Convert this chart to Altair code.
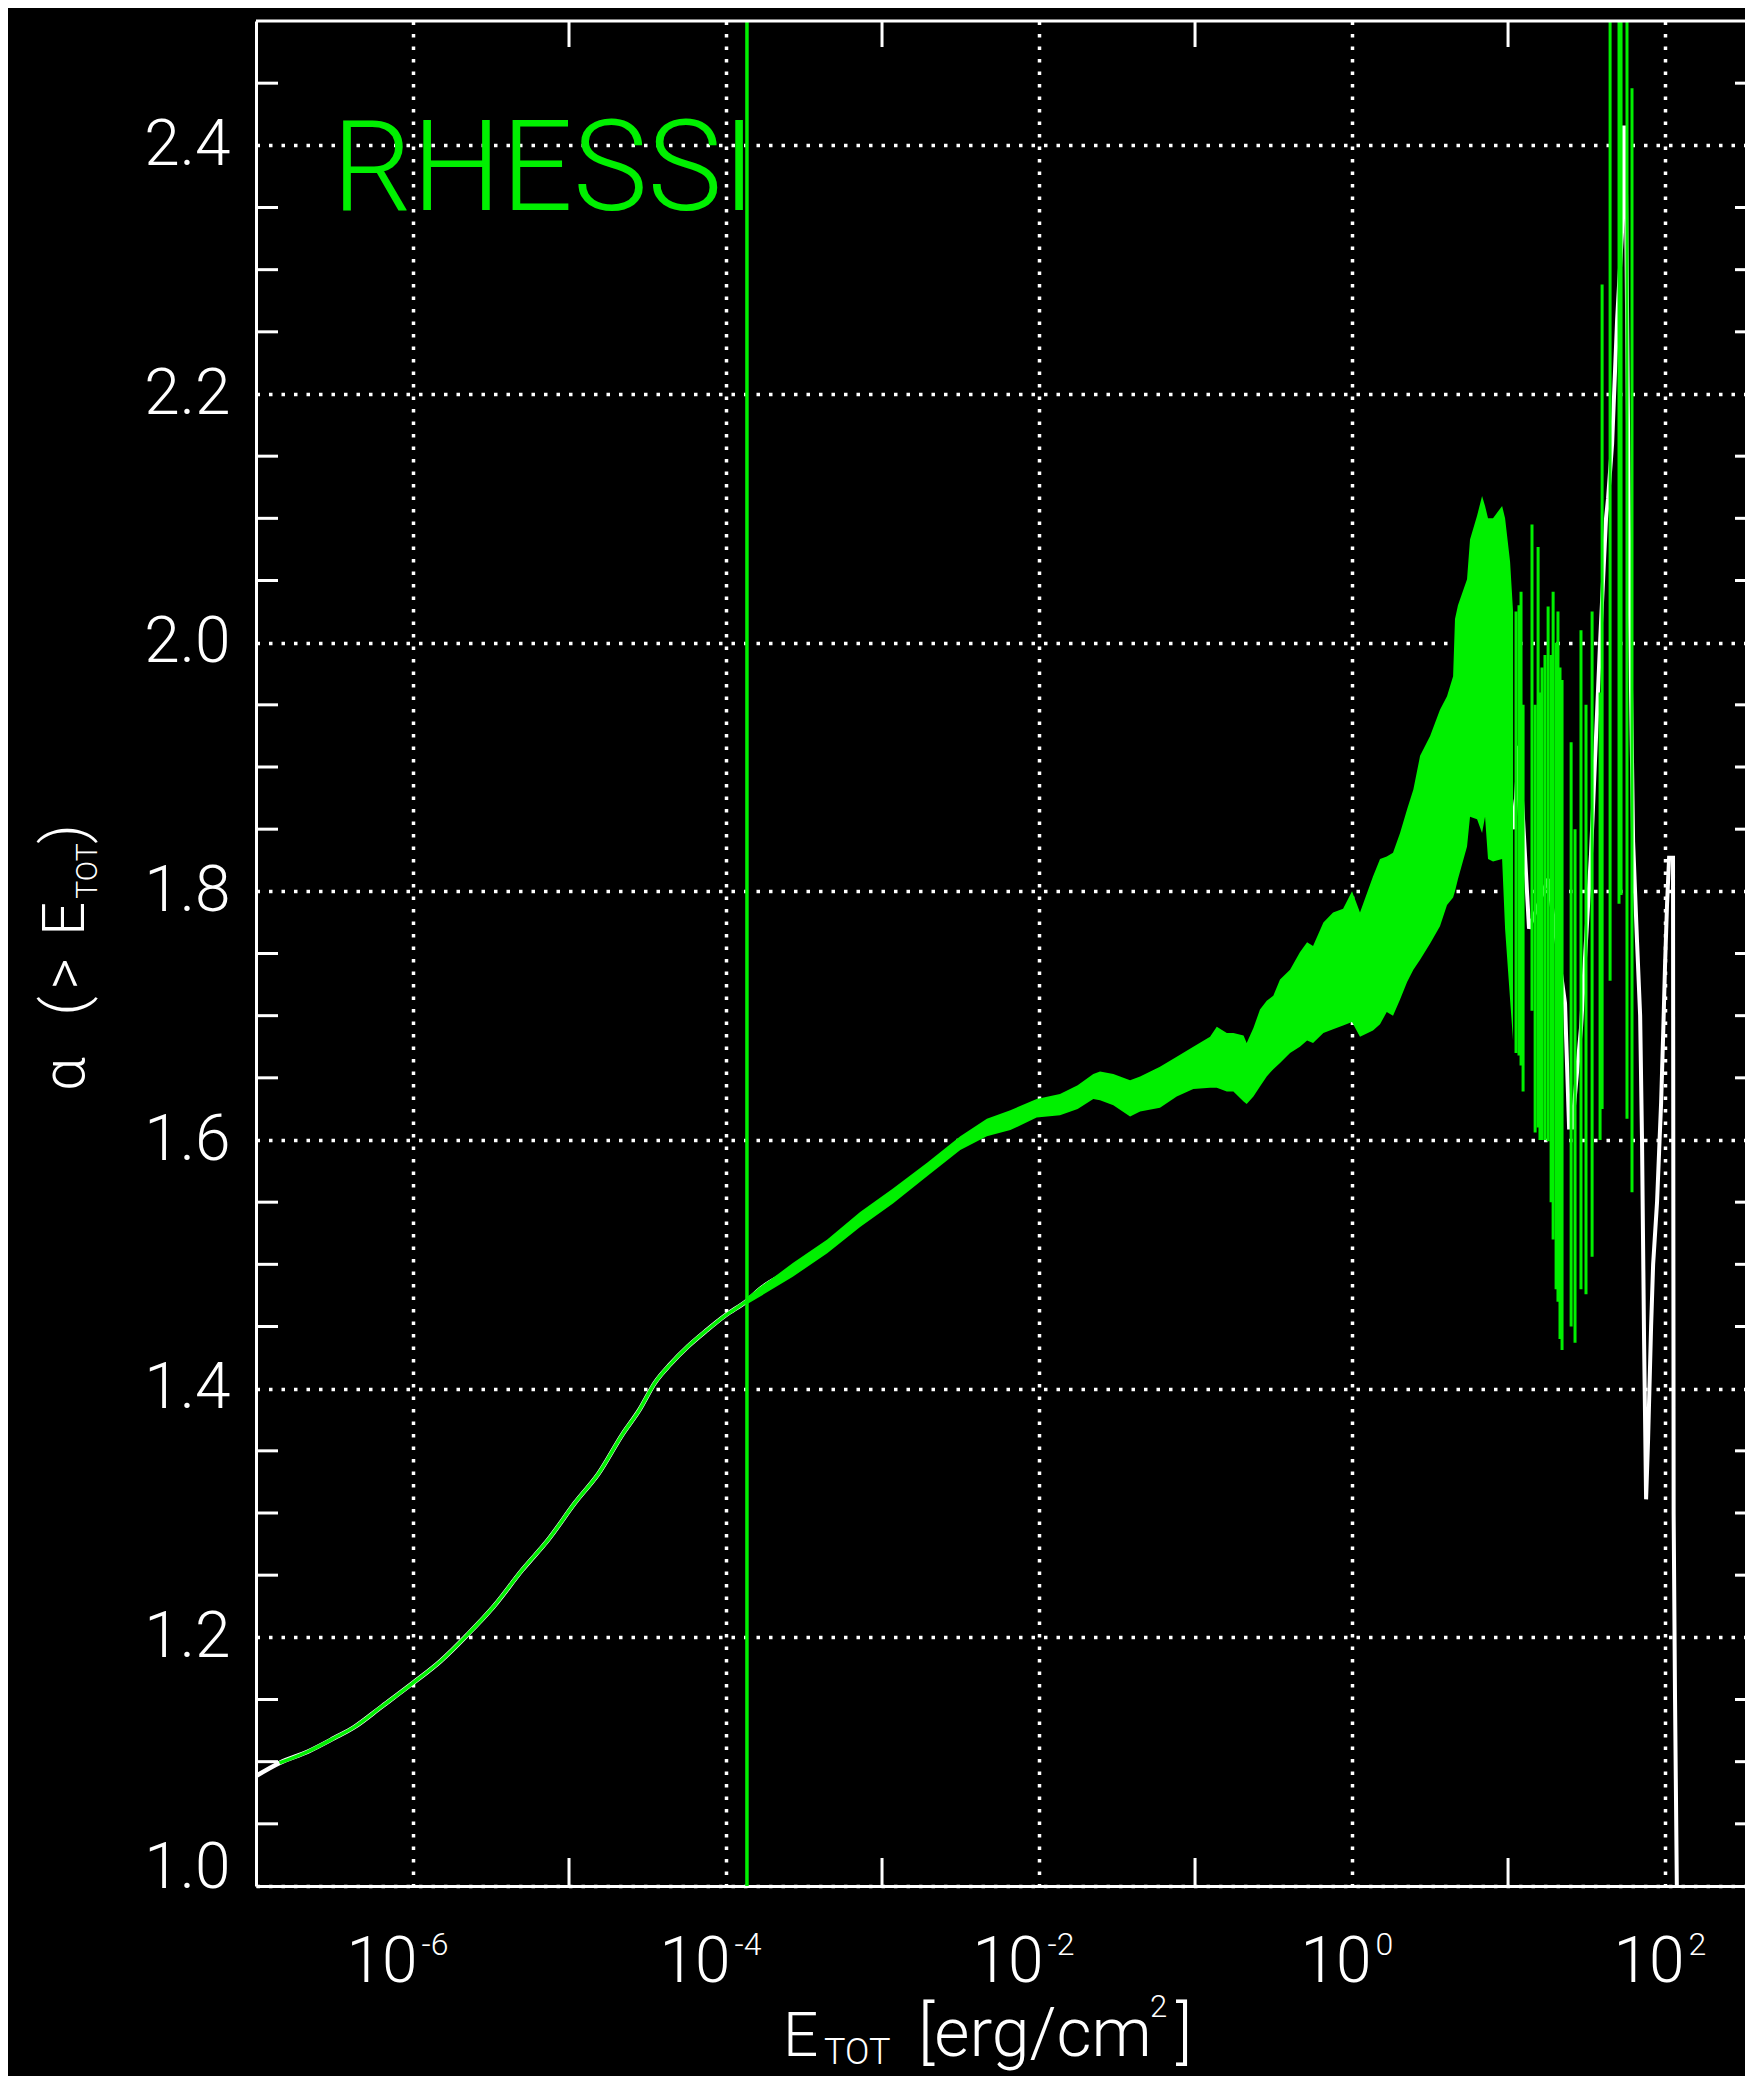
import altair as alt
import numpy as np
import pandas as pd

# ---------------- data ----------------
# x given as log10(E_TOT [erg/cm^2]), y = alpha(>E_TOT)
curve_logE = [-7.0, -6.85, -6.67, -6.5, -6.37, -6.2, -6.0, -5.82, -5.65, -5.48,
              -5.30, -5.13, -4.96, -4.81, -4.66, -4.55, -4.45, -4.35, -4.24, -4.12,
              -4.00, -3.86, -3.78, -3.57, -3.35, -3.14, -2.93, -2.71, -2.50, -2.33,
              -2.18, -2.01, -1.82, -1.22, -0.67, -0.18, 0.26, 0.52, 0.76, 0.90, 1.04]
curve_alpha = [1.0885, 1.099, 1.108, 1.119, 1.128, 1.144, 1.163, 1.181, 1.202, 1.225,
               1.254, 1.279, 1.3085, 1.332, 1.363, 1.383, 1.405, 1.420, 1.434, 1.447,
               1.459, 1.471, 1.480, 1.496, 1.5145, 1.536, 1.555, 1.576, 1.598, 1.611,
               1.618, 1.6245, 1.633, 1.645, 1.655, 1.73, 1.765, 1.85, 1.97, 1.96, 1.85]

# white curve continuing through the noisy high-energy end
tail_logE = [1.040, 1.070, 1.134, 1.256, 1.364, 1.390, 1.409, 1.466, 1.530, 1.588,
             1.626, 1.639, 1.665, 1.684, 1.697, 1.728, 1.741, 1.754, 1.773, 1.799,
             1.824, 1.844, 1.856, 1.869, 1.882, 1.895, 1.914, 1.927, 1.952, 1.965,
             1.978, 1.990, 2.003, 2.016, 2.029, 2.054, 2.058, 2.067, 2.080]
tail_alpha = [1.85, 1.917, 1.77, 1.81, 1.71, 1.61, 1.61, 1.69, 1.83, 2.0,
              2.10, 2.116, 2.16, 2.22, 2.26, 2.33, 2.416, 2.36, 2.08, 1.84,
              1.76, 1.70, 1.60, 1.44, 1.311, 1.36, 1.45, 1.50, 1.55, 1.59,
              1.63, 1.68, 1.74, 1.79, 1.827, 1.827, 1.30, 1.15, 0.98]

# green (RHESSI) scatter band: lower / upper envelopes
band_logE = [-3.86, -3.57, -3.35, -3.14, -2.93, -2.71, -2.50, -2.33, -2.18, -2.012,
             -1.863, -1.75, -1.65, -1.607, -1.522, -1.415, -1.351, -1.224, -1.117, -1.011,
             -0.904, -0.861, -0.797, -0.755, -0.69, -0.67, -0.627, -0.585, -0.542, -0.50,
             -0.457, -0.393, -0.33, -0.284, -0.246, -0.18, -0.118, -0.054, 0.003, 0.054,
             0.137, 0.182, 0.225, 0.265, 0.31, 0.355, 0.395, 0.438, 0.502, 0.565,
             0.61, 0.649, 0.661, 0.68, 0.738, 0.757, 0.802, 0.834, 0.853, 0.872,
             0.904, 0.962, 0.981, 1.013, 1.032]
band_lo = [1.468, 1.490, 1.509, 1.530, 1.549, 1.571, 1.592, 1.603, 1.608, 1.618,
           1.620, 1.625, 1.633, 1.632, 1.628, 1.619, 1.623, 1.626, 1.635, 1.641,
           1.642, 1.642, 1.639, 1.639, 1.631, 1.629, 1.635, 1.643, 1.651, 1.657,
           1.662, 1.670, 1.675, 1.680, 1.678, 1.686, 1.689, 1.692, 1.695, 1.683,
           1.688, 1.693, 1.703, 1.700, 1.713, 1.727, 1.737, 1.745, 1.758, 1.772,
           1.789, 1.795, 1.800, 1.810, 1.836, 1.860, 1.858, 1.847, 1.860, 1.826,
           1.824, 1.826, 1.770, 1.713, 1.680]
band_hi = [1.474, 1.501, 1.520, 1.542, 1.561, 1.582, 1.603, 1.617, 1.624, 1.633,
           1.637, 1.644, 1.653, 1.655, 1.653, 1.648, 1.651, 1.659, 1.667, 1.675,
           1.683, 1.691, 1.686, 1.686, 1.684, 1.678, 1.690, 1.705, 1.712, 1.716,
           1.729, 1.737, 1.751, 1.759, 1.756, 1.775, 1.783, 1.786, 1.800, 1.783,
           1.812, 1.826, 1.828, 1.831, 1.847, 1.866, 1.882, 1.909, 1.925, 1.946,
           1.957, 1.973, 2.019, 2.030, 2.051, 2.083, 2.102, 2.118, 2.110, 2.100,
           2.100, 2.110, 2.100, 2.065, 2.025]

# green vertical excursions at the high-energy end
spike_logE = [1.051, 1.070, 1.083, 1.096, 1.153, 1.173, 1.192, 1.204, 1.217, 1.236,
              1.256, 1.275, 1.288, 1.307, 1.319, 1.332, 1.345, 1.403, 1.428, 1.466,
              1.498, 1.537, 1.588, 1.601, 1.652, 1.709, 1.722, 1.760, 1.792]
spike_lo = [1.67, 1.668, 1.66, 1.639, 1.704, 1.606, 1.61, 1.60, 1.60, 1.60,
            1.599, 1.55, 1.52, 1.48, 1.47, 1.44, 1.431, 1.45, 1.437, 1.48,
            1.476, 1.506, 1.60, 1.625, 1.728, 1.79, 1.797, 1.617, 1.558]
spike_hi = [2.025, 2.03, 2.041, 1.95, 2.095, 1.95, 2.077, 1.96, 1.98, 1.99,
            2.029, 1.99, 2.041, 2.00, 2.025, 1.98, 1.97, 1.92, 1.85, 2.01,
            1.95, 2.025, 1.96, 2.288, 2.55, 2.55, 2.55, 2.55, 2.446]

marker_logE = [-3.863]

xtick_exp = [-6, -4, -2, 0, 2]
xminor_exp = [-5, -3, -1, 1]
ytick_vals = [1.0, 1.2, 1.4, 1.6, 1.8, 2.0, 2.2, 2.4]
yminor_vals = [1.05, 1.10, 1.15, 1.25, 1.30, 1.35, 1.45, 1.50, 1.55, 1.65, 1.70,
               1.75, 1.85, 1.90, 1.95, 2.05, 2.10, 2.15, 2.25, 2.30, 2.35, 2.45]

# ---------------- layout / style ----------------
W, H = 1489, 1865
GREEN = "#00f000"
FONT = "Roboto"

xs = alt.Scale(type="log", domain=[1e-7, 10 ** 2.514], nice=False)
ys = alt.Scale(domain=[1.0, 2.5], nice=False, zero=False)

xaxis = alt.Axis(values=[10.0 ** e for e in xtick_exp], labels=False, ticks=False,
                 title=None, grid=True, gridColor="white", gridDash=[3.5, 9],
                 gridWidth=3.5, gridOpacity=1, domainColor="white", domainWidth=3)
yaxis = alt.Axis(values=ytick_vals, format=".1f", labelColor="white", labelFont=FONT,
                 labelFontSize=64, labelFontWeight=300, labelPadding=26,
                 labelFlush=True, labelFlushOffset=14, ticks=False, title=None,
                 grid=True, gridColor="white", gridDash=[3.5, 9], gridWidth=3.5,
                 gridOpacity=1, domainColor="white", domainWidth=3)


def X(f):
    return alt.X(f, scale=xs, axis=xaxis)


def Y(f):
    return alt.Y(f, scale=ys, axis=yaxis)


curve_df = pd.DataFrame({"E": 10.0 ** np.array(curve_logE), "alpha": curve_alpha,
                         "logE": curve_logE})
tail_df = pd.DataFrame({"E": 10.0 ** np.array(tail_logE), "alpha": tail_alpha})
tail_df["i"] = range(len(tail_df))
band_df = pd.DataFrame({"E": 10.0 ** np.array(band_logE), "lo": band_lo, "hi": band_hi})
spike_df = pd.DataFrame({"E": 10.0 ** np.array(spike_logE), "lo": spike_lo, "hi": spike_hi})
marker_df = pd.DataFrame({"E": [10.0 ** v for v in marker_logE]})
xlab_df = pd.DataFrame({"E": [10.0 ** e for e in xtick_exp],
                        "exp": xtick_exp,
                        "sup": [str(e) for e in xtick_exp]})
xminor_df = pd.DataFrame({"E": [10.0 ** e for e in xminor_exp]})
yminor_df = pd.DataFrame({"v": yminor_vals})
one = pd.DataFrame({"k": [0]})

white_curve = alt.Chart(curve_df).mark_line(
    color="white", strokeWidth=4.5, clip=True, interpolate="monotone").encode(
    x=X("E:Q"), y=Y("alpha:Q"))

white_tail = alt.Chart(tail_df).mark_line(color="white", strokeWidth=4, clip=True).encode(
    x=X("E:Q"), y=Y("alpha:Q"), order="i:Q")

green_line = alt.Chart(curve_df).transform_filter(
    "datum.logE >= -6.9 && datum.logE <= -3.5").mark_line(
    color=GREEN, strokeWidth=3.5, clip=True, interpolate="monotone").encode(
    x=X("E:Q"), y=Y("alpha:Q"))

band = alt.Chart(band_df).mark_area(color=GREEN, opacity=1, clip=True).encode(
    x=X("E:Q"), y=Y("lo:Q"), y2="hi:Q")

spikes = alt.Chart(spike_df).mark_rule(color=GREEN, strokeWidth=3, clip=True).encode(
    x=X("E:Q"), y=Y("lo:Q"), y2="hi:Q")

marker = alt.Chart(marker_df).mark_rule(color=GREEN, strokeWidth=3.5).encode(x=X("E:Q"))

rhessi = alt.Chart(one).mark_text(text="RHESSI", color=GREEN, font=FONT, fontSize=126,
                                  fontWeight=300, align="left",
                                  baseline="alphabetic").encode(
    x=alt.value(76), y=alt.value(189))

# tick marks
yl = alt.Chart(yminor_df).mark_rule(color="white", strokeWidth=3).encode(
    y=Y("v:Q"), x=alt.value(0), x2=alt.value(22))
yr = alt.Chart(yminor_df).mark_rule(color="white", strokeWidth=3).encode(
    y=Y("v:Q"), x=alt.value(W - 10), x2=alt.value(W))
xb = alt.Chart(xminor_df).mark_rule(color="white", strokeWidth=3).encode(
    x=X("E:Q"), y=alt.value(H - 28), y2=alt.value(H))
xt = alt.Chart(xminor_df).mark_rule(color="white", strokeWidth=3).encode(
    x=X("E:Q"), y=alt.value(0), y2=alt.value(26))
top = alt.Chart(one).mark_rule(color="white", strokeWidth=3).encode(
    x=alt.value(0), x2=alt.value(W), y=alt.value(0))


# x tick labels 10^n
def ten(cond, dx):
    return alt.Chart(xlab_df).transform_filter(cond).mark_text(
        text="10", align="right", baseline="alphabetic", dx=dx, font=FONT,
        fontWeight=300, fontSize=64, color="white").encode(
        x=X("E:Q"), y=alt.value(H + 96))


def sup(cond, dx):
    return alt.Chart(xlab_df).transform_filter(cond).mark_text(
        align="left", baseline="alphabetic", dx=dx, font=FONT,
        fontWeight=300, fontSize=32, color="white").encode(
        x=X("E:Q"), y=alt.value(H + 69), text="sup:N")


labels = [ten("datum.exp < 0", 5), ten("datum.exp >= 0", 20),
          sup("datum.exp < 0", 9), sup("datum.exp >= 0", 24)]


def txt(s, x, y, size, align="left", angle=0, weight=300):
    kw = dict(text=s, align=align, baseline="alphabetic", font=FONT, fontSize=size,
              fontWeight=weight, color="white")
    if angle:
        kw["angle"] = angle
    return alt.Chart(one).mark_text(**kw).encode(x=alt.value(x), y=alt.value(y))


xtitle = [
    txt("E", 527, 2035, 62),
    txt("TOT", 568, 2043, 36),
    txt("[erg/cm", 662, 2035, 68),
    txt("2", 894, 1996, 31),
    txt("]", 920, 2035, 68),
]
ytitle = [
    txt("α", -172, 1053, 60, align="center", angle=270),
    txt("(", -172, 985, 60, align="center", angle=270),
    txt(">", -172, 953, 60, align="center", angle=270),
    txt("E", -172, 898, 60, align="center", angle=270),
    txt("TOT", -159, 850, 30, align="center", angle=270),
    txt(")", -172, 813, 60, align="center", angle=270),
]

chart = alt.layer(
    white_curve, white_tail, green_line, band, spikes, marker, rhessi,
    yl, yr, xb, xt, top, *labels, *xtitle, *ytitle,
).properties(
    width=W, height=H,
    autosize=alt.AutoSizeParams(type="none"),
    padding={"left": 248, "top": 13, "right": 0, "bottom": 190},
    background="black",
).configure_view(stroke=None)

chart.save("out.html", embed_options={"renderer": "svg", "actions": False})
